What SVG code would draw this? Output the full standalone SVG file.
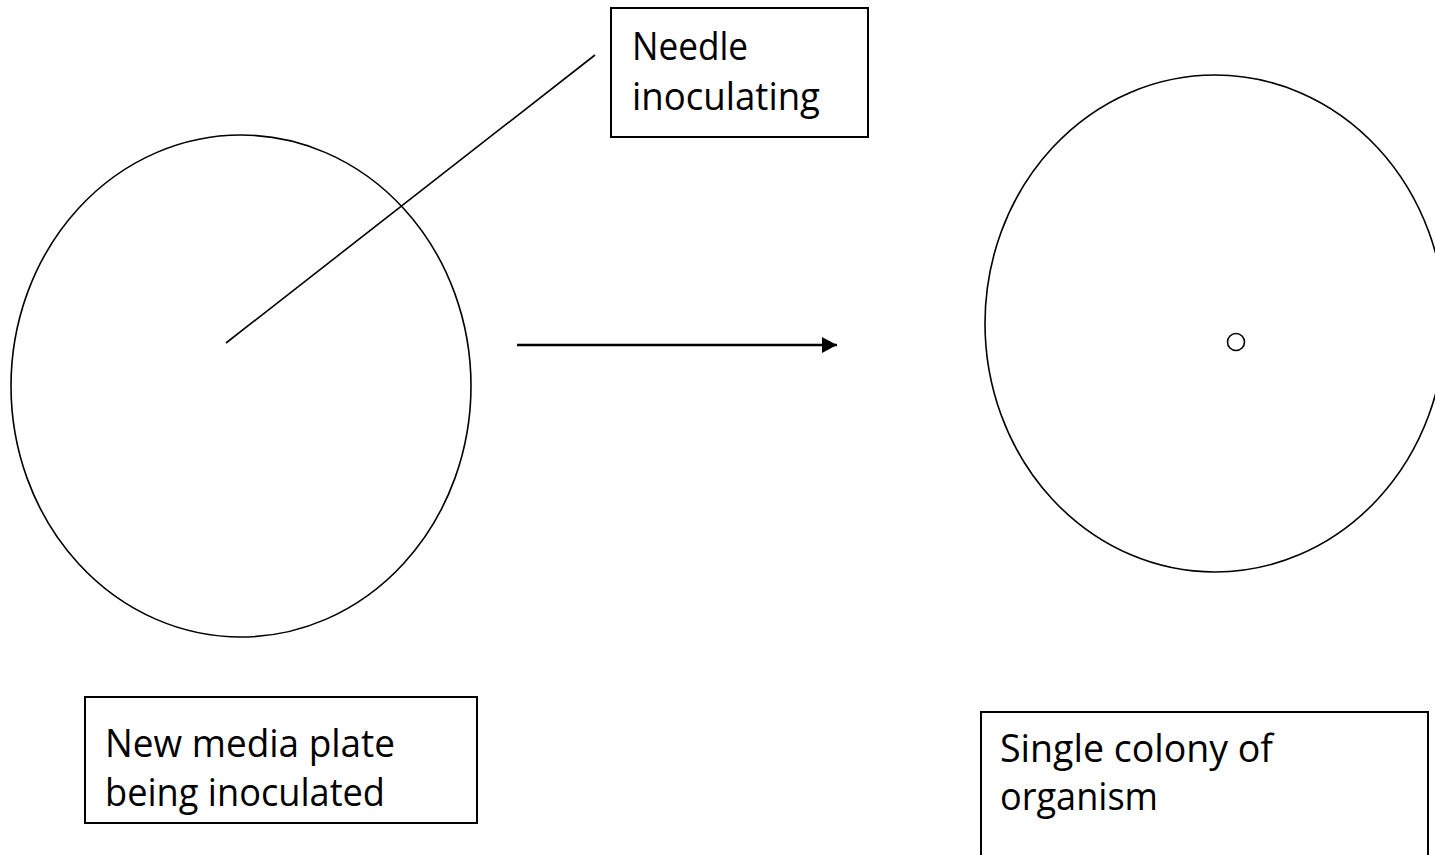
<svg xmlns="http://www.w3.org/2000/svg" width="1435" height="855" viewBox="0 0 1435 855">
<style>
.plate{fill:none;stroke:#000;stroke-width:1.6}
.box{fill:#fff;stroke:#000;stroke-width:2}
.lbl{font-family:"Open Sans","Liberation Sans",sans-serif;font-size:38px;fill:#000}
.conn{stroke:#000;stroke-width:1.6;fill:none}
</style>
<defs>
<marker id="ah" viewBox="0 0 15 16" refX="15" refY="8" markerWidth="15" markerHeight="16" markerUnits="userSpaceOnUse" orient="auto">
<path d="M0,0 L15,8 L0,16 Z" fill="#000"/>
</marker>
</defs>
<rect width="1435" height="855" fill="#fff"/>
<g id="plate-left">
<ellipse class="plate" cx="241" cy="386" rx="230" ry="251"/>
</g>
<g id="plate-right">
<ellipse class="plate" cx="1215" cy="323.5" rx="230" ry="248.5"/>
<circle class="plate" cx="1236" cy="342" r="8.5"/>
</g>
<g id="connectors">
<line class="conn" x1="226" y1="343" x2="595" y2="55"/>
<line x1="517" y1="345" x2="837" y2="345" stroke="#000" stroke-width="2.5" marker-end="url(#ah)"/>
</g>
<g id="needle-label">
<rect class="box" x="611" y="8" width="257" height="129"/>
<text class="lbl" x="632" y="60" textLength="116" lengthAdjust="spacingAndGlyphs">Needle</text>
<text class="lbl" x="632" y="110" textLength="188" lengthAdjust="spacingAndGlyphs">inoculating</text>
</g>
<g id="left-label">
<rect class="box" x="85" y="697" width="392" height="126"/>
<text class="lbl" x="105" y="757" textLength="290" lengthAdjust="spacingAndGlyphs">New media plate</text>
<text class="lbl" x="105" y="806" textLength="280" lengthAdjust="spacingAndGlyphs">being inoculated</text>
</g>
<g id="right-label">
<rect class="box" x="981" y="712" width="447" height="160"/>
<text class="lbl" x="1000" y="762" textLength="273" lengthAdjust="spacingAndGlyphs">Single colony of</text>
<text class="lbl" x="1000" y="810" textLength="158" lengthAdjust="spacingAndGlyphs">organism</text>
</g>
</svg>
